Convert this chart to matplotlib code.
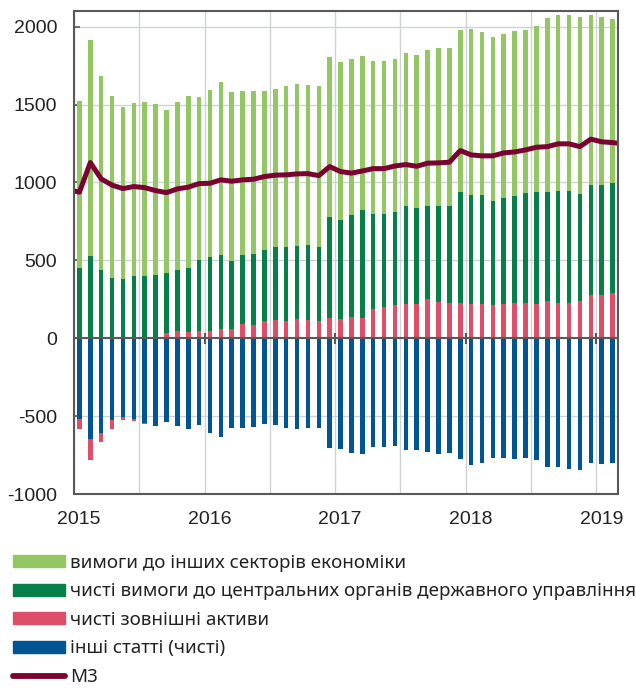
""" monetary survey components vs M3, monthly 2015-2019 """

import numpy as np
import matplotlib
matplotlib.use("Agg")
from matplotlib import pyplot as plt
from matplotlib import transforms
from matplotlib.patches import Patch
from matplotlib.lines import Line2D

plt.rcParams['font.family'] = ['Liberation Sans', 'DejaVu Sans']
plt.rcParams['axes.unicode_minus'] = False

# monthly data, Jan 2015 .. Feb 2019 (bars)
other_sectors = [1070, 1386, 1248, 1166, 1107, 1107, 1113, 1096, 1045, 1076,
                 1100, 1047, 1076, 1110, 1080, 1055, 1049, 1019, 1014, 1035,
                 1040, 1028, 1031, 1024, 1011, 1001, 990, 983, 981, 980,
                 979, 981, 999, 1012, 1011, 1039, 1065, 1048, 1052, 1052,
                 1056, 1046, 1066, 1112, 1125, 1129, 1137, 1092, 1079, 1054]
central_gov = [453, 529, 438, 389, 380, 402, 402, 400, 386, 394,
               415, 455, 471, 475, 439, 445, 454, 456, 466, 474,
               469, 483, 478, 651, 636, 655, 692, 611, 600, 596,
               629, 616, 598, 617, 624, 712, 699, 698, 667, 685,
               688, 705, 718, 705, 720, 724, 686, 705, 705, 703]
foreign_assets = [-67, -132, -54, -54, -24, -13, -6, 8, 35, 47,
                  38, 47, 49, 60, 60, 90, 85, 111, 119, 113,
                  124, 115, 111, 128, 124, 137, 130, 188, 201, 215,
                  221, 221, 252, 233, 228, 228, 221, 222, 215, 218,
                  226, 226, 222, 237, 228, 224, 241, 280, 280, 294]
other_items = [-517, -648, -610, -524, -502, -519, -543, -560, -534, -560,
               -584, -558, -605, -633, -573, -577, -571, -552, -558, -577,
               -579, -577, -573, -706, -710, -734, -740, -697, -697, -691,
               -717, -717, -727, -740, -738, -772, -815, -800, -768, -768,
               -776, -768, -779, -826, -826, -836, -841, -802, -808, -800]
# M3 runs Dec 2014 .. Mar 2019 (ends are clipped by the axes)
m3 = [954,
      938, 1128, 1023, 983, 961, 974, 967, 948, 935, 959,
      970, 993, 995, 1017, 1008, 1017, 1021, 1038, 1047, 1049,
      1055, 1057, 1044, 1102, 1070, 1060, 1074, 1089, 1089, 1106,
      1115, 1104, 1124, 1126, 1130, 1205, 1177, 1171, 1171, 1190,
      1196, 1209, 1226, 1230, 1248, 1248, 1230, 1278, 1261, 1256,
      1248]
years = [2015, 2016, 2017, 2018, 2019]

labels = ["вимоги до інших секторів економіки",
          "чисті вимоги до центральних органів державного управління",
          "чисті зовнішні активи",
          "інші статті (чисті)",
          "М3"]
c_light, c_dark, c_pink, c_blue, c_m3 = "#93c764", "#077f48", "#de4e68", "#005592", "#7b0332"
frame_col = "#595959"

n = len(other_sectors)
x = np.arange(n) + 0.5           # bar centres, months since Jan 2015
x_m3 = np.arange(-1, n + 1) + 0.5
fa = np.array(foreign_assets)
fa_pos = np.clip(fa, 0, None)
fa_neg = np.clip(fa, None, 0)
cg = np.array(central_gov)
oi = np.array(other_items)

fig = plt.figure(figsize=(6.36, 6.88), dpi=100)
ax = fig.add_axes([74 / 636, 1 - 494.3 / 688, 544 / 636, 483.3 / 688])

w = 0.42
ax.bar(x, fa_pos, w, color=c_pink, zorder=3)
ax.bar(x, cg, w, bottom=fa_pos, color=c_dark, zorder=3)
ax.bar(x, other_sectors, w, bottom=fa_pos + cg, color=c_light, zorder=3)
ax.bar(x, oi, w, color=c_blue, zorder=3)
ax.bar(x, fa_neg, w, bottom=oi, color=c_pink, zorder=3)
ax.plot(x_m3, m3, color=c_m3, lw=3.6, solid_joinstyle='round', zorder=4)

ax.axhline(0, color=frame_col, lw=1.5, zorder=5)
year_pos = [(y - years[0]) * 12 for y in years]
ax.vlines(year_pos[1:], -35, 35, color=frame_col, lw=1.5, zorder=5)

ax.set_xlim(0, n)
ax.set_ylim(-1000, 2100)
ax.set_yticks(range(-1000, 2001, 500))
ax.set_xticks(year_pos)
ax.set_xticklabels([str(y) for y in years])
ax.set_xticks(np.arange(6, n, 12), minor=True)
ax.grid(True, which='both', axis='x', color="#cfd3d6", lw=1, zorder=0)
ax.grid(True, which='major', axis='y', color="#cfd3d6", lw=1, zorder=0)

ax.tick_params(axis='y', direction='in', length=4, width=1.2, color=frame_col,
               labelsize=14, pad=12, labelcolor="#222222")
ax.tick_params(axis='x', which='both', length=0, labelsize=14, pad=12, labelcolor="#222222")
offset = transforms.ScaledTranslation(5 / 100, 0, fig.dpi_scale_trans)
for lab in ax.get_xticklabels():
    lab.set_transform(lab.get_transform() + offset)
for sp in ax.spines.values():
    sp.set_color(frame_col)
    sp.set_linewidth(1.5)
    sp.set_zorder(6)

handles = [Patch(color=c_light), Patch(color=c_dark), Patch(color=c_pink),
           Patch(color=c_blue), Line2D([], [], color=c_m3, lw=4.2, solid_capstyle='round')]
fig.legend(handles, labels, loc='upper left', bbox_to_anchor=(13 / 636, 1 - 554 / 688),
           frameon=False, handlelength=2.77, handleheight=0.6,
           handletextpad=0.27, labelspacing=0.56, borderpad=0, borderaxespad=0,
           labelcolor="#222222",
           prop={'family': ['Noto Sans', 'DejaVu Sans'], 'size': 13.5})

fig.savefig("out.png", dpi=100)
